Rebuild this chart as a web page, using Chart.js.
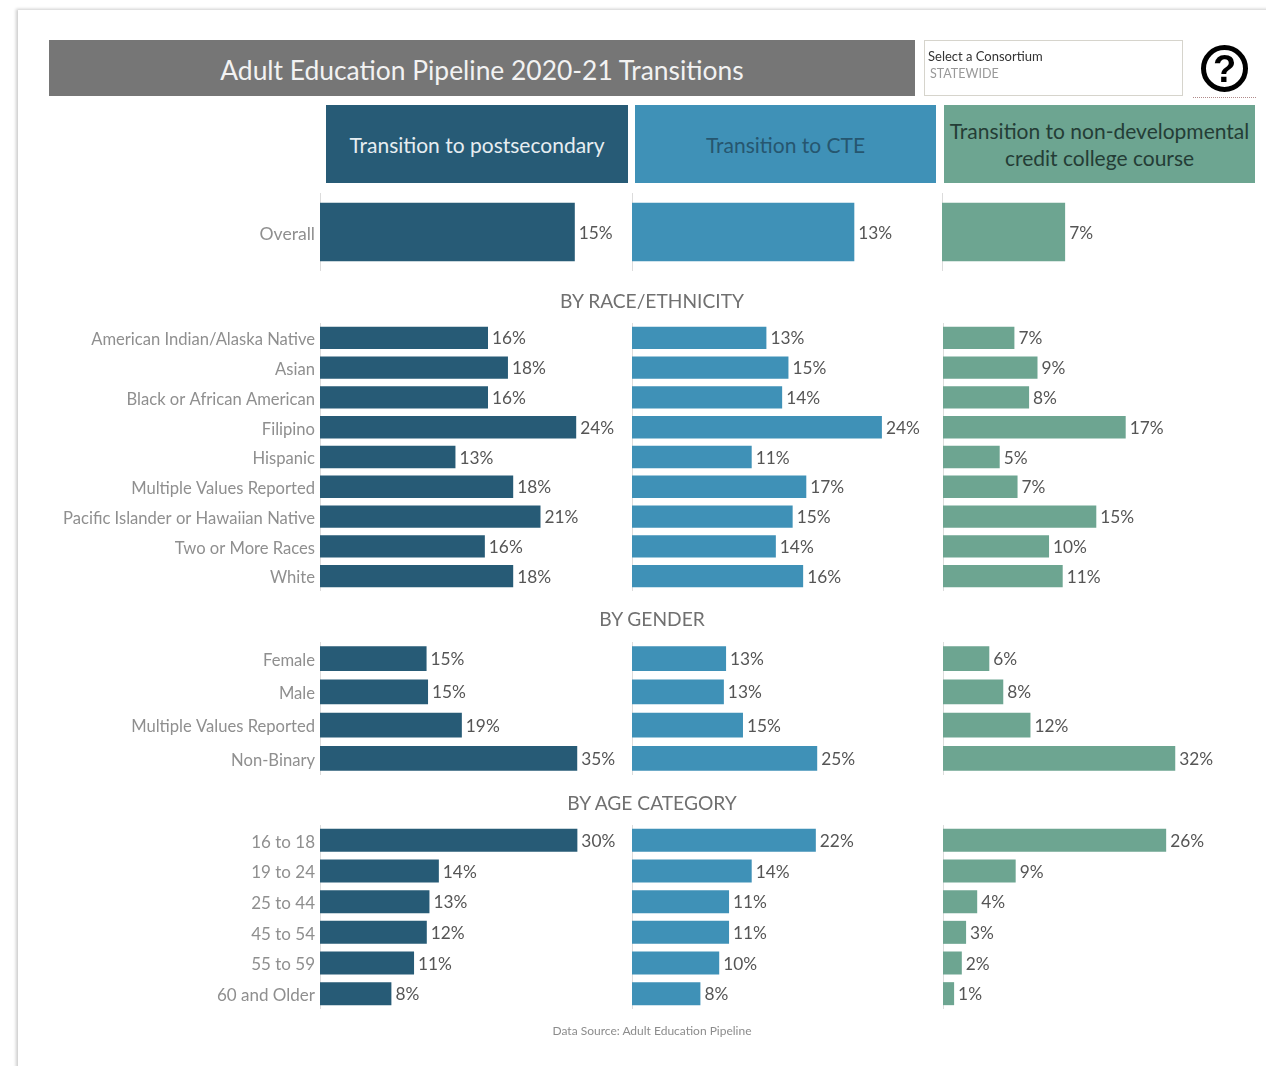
<!DOCTYPE html>
<html>
<head>
<meta charset="utf-8">
<script src="https://cdn.jsdelivr.net/npm/chart.js@4"></script>
<style>
html,body{margin:0;padding:0;background:#fff;}
body{width:1266px;height:1066px;overflow:hidden;position:relative;font-family:Lato,sans-serif;}
#wrap{position:absolute;left:0;top:0;width:1266px;height:1066px;overflow:hidden;filter:blur(0.45px);}
.abs{position:absolute;white-space:nowrap;}
canvas{position:absolute;}
#page{left:18px;top:10px;width:1300px;height:1100px;background:#fff;box-shadow:-2px -1px 3px rgba(0,0,0,.2);}
#title{left:49px;top:40px;width:866px;height:56px;background:#767676;color:#f2f2f2;font-size:26.4px;line-height:61px;text-align:center;}
.head{top:105px;height:78px;display:flex;align-items:center;justify-content:center;text-align:center;font-size:21px;line-height:27px;}
.sec{left:320px;width:664px;text-align:center;color:#707070;font-size:19.2px;}
#filter{left:924px;top:40px;width:257px;height:54px;border:1px solid #d6d4cc;background:#fff;}
#help{left:1201px;top:45px;width:37px;height:37px;border:5px solid #000;border-radius:50%;text-align:center;font:bold 38px/38px "Liberation Sans",sans-serif;color:#000;}
#dots{left:1193px;top:97px;width:63px;height:0;border-top:1px dotted #b08a8a;}
</style>
</head>
<body>
<div id="wrap">
<div class="abs" id="page"></div>
<div class="abs" id="title">Adult Education Pipeline 2020-21 Transitions</div>
<div class="abs" id="filter">
  <div class="abs" style="left:3px;top:7px;font-size:13px;color:#333;">Select a Consortium</div>
  <div class="abs" style="left:5px;top:25px;font-size:12.5px;color:#999;">STATEWIDE</div>
</div>
<div class="abs" id="help">?</div>
<div class="abs" id="dots"></div>
<div class="abs head" style="left:326px;width:302px;background:#275b76;color:#e6edf1;">Transition to postsecondary</div>
<div class="abs head" style="left:635px;width:301px;background:#3f91b7;color:#26566f;">Transition to CTE</div>
<div class="abs head" style="left:944px;width:311px;background:#6da591;color:#243d36;">Transition to non-developmental<br>credit college course</div>
<div class="abs sec" style="top:289px;">BY RACE/ETHNICITY</div>
<div class="abs sec" style="top:607px;">BY GENDER</div>
<div class="abs sec" style="top:791px;">BY AGE CATEGORY</div>
<div class="abs" style="left:320px;width:664px;top:1023px;text-align:center;color:#8c8c8c;font-size:12px;">Data Source: Adult Education Pipeline</div>
</div>

<script>
const overallCats = ['Overall'];
const overallPost = [14.9];
const overallCte  = [13.0];
const overallCredit = [7.2];

const raceCats = ['American Indian/Alaska Native','Asian','Black or African American','Filipino','Hispanic','Multiple Values Reported','Pacific Islander or Hawaiian Native','Two or More Races','White'];
const racePost = [16.0,17.9,16.0,24.4,12.9,18.4,21.0,15.7,18.4];
const raceCte  = [12.8,14.9,14.3,23.8,11.4,16.6,15.3,13.7,16.3];
const raceCredit = [6.8,9.0,8.2,17.4,5.4,7.1,14.6,10.1,11.4];

const genderCats = ['Female','Male','Multiple Values Reported','Non-Binary'];
const genderPost = [14.5,14.7,19.3,35.0];
const genderCte  = [12.8,12.5,15.1,25.2];
const genderCredit = [6.3,8.2,11.9,31.6];

const ageCats = ['16 to 18','19 to 24','25 to 44','45 to 54','55 to 59','60 and Older'];
const agePost = [30.1,13.9,12.8,12.49,11.0,8.35];
const ageCte  = [21.5,14.0,11.35,11.35,10.2,8.0];
const ageCredit = [26.1,8.5,4.0,2.7,2.2,1.3];

const DARK='#275b76', BLUE='#3f91b7', GREEN='#6da591';

const valueLabels = {
  id:'valueLabels',
  beforeDraw(chart){
    const s=chart.scales.y;
    if(s.options.ticks.display){
      s.getLabelItems(chart.chartArea).forEach(item=>{item.options.translation[1]+=2;});
    }
  },
  afterDatasetsDraw(chart){
    const ctx=chart.ctx, data=chart.data.datasets[0].data;
    ctx.save();
    ctx.font='17.3px Lato'; ctx.fillStyle='#555'; ctx.textBaseline='middle'; ctx.textAlign='left';
    chart.getDatasetMeta(0).data.forEach((bar,i)=>{
      ctx.fillText(Math.round(data[i])+'%',bar.x+4,bar.y+1);
    });
    ctx.restore();
  }
};

function draw(left,top,height,cats,vals,color,max,withLabels,tickSize){
  const c=document.createElement('canvas');
  const axisW=withLabels?300:1;
  c.width=315+axisW; c.height=height;
  c.style.left=(left-axisW)+'px'; c.style.top=top+'px';
  c.style.width=c.width+'px'; c.style.height=height+'px';
  document.getElementById('wrap').appendChild(c);
  new Chart(c,{
    type:'bar',
    data:{labels:cats,datasets:[{data:vals,backgroundColor:color,barPercentage:0.75,categoryPercentage:1}]},
    plugins:[valueLabels],
    options:{
      indexAxis:'y',responsive:false,animation:false,
      layout:{padding:0},
      plugins:{legend:{display:false},tooltip:{enabled:false}},
      scales:{
        x:{display:false,min:0,max:max},
        y:{
          afterFit(s){s.width=axisW;s.paddingTop=0;s.paddingBottom=0;},
          grid:{display:false,drawTicks:false},
          border:{display:true,color:'#dcdcdc',dash:[2,2],width:1},
          ticks:{display:withLabels,color:'#8f8f8f',font:{family:'Lato',size:tickSize},padding:5,autoSkip:false}
        }
      }
    }
  });
}

const columns=[[320,DARK],[632,BLUE],[943,GREEN]];
const sections=[
 [193,78,overallCats,[overallPost,overallCte,overallCredit],18.42,17.6,[0,0,-1]],
 [323,268,raceCats,[racePost,raceCte,raceCredit],30,16.6,[0,0,0]],
 [642,133,genderCats,[genderPost,genderCte,genderCredit],42.86,16.6,[0,0,0]],
 [825,184,ageCats,[agePost,ageCte,ageCredit],36.84,17,[0,0,0]]
];
sections.forEach(([top,h,cats,series,max,tickSize,nudge])=>{
  series.forEach((vals,i)=>draw(columns[i][0]+nudge[i],top,h,cats,vals,columns[i][1],max,i===0,tickSize));
});
</script>
</body>
</html>
